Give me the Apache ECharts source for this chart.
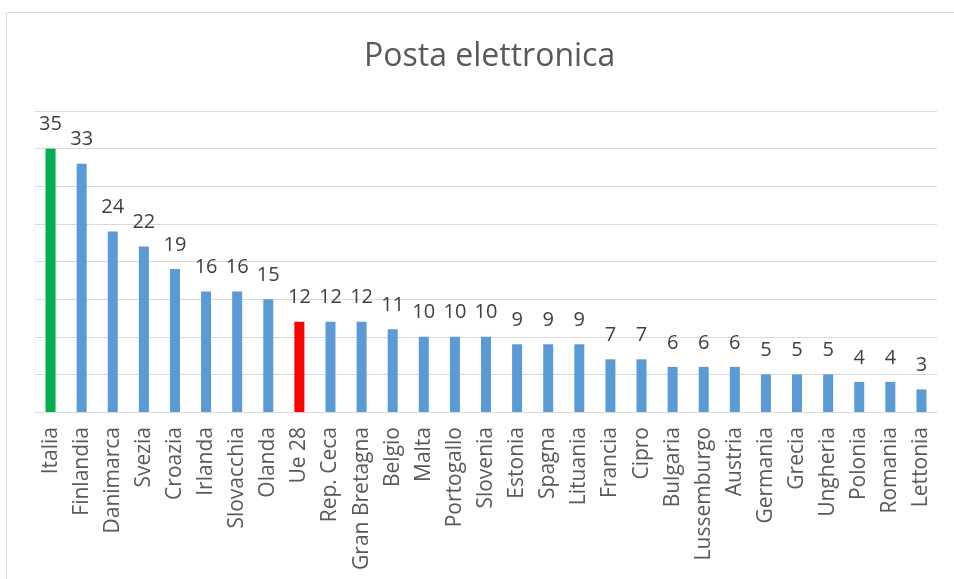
<!DOCTYPE html>
<html>
<head>
<meta charset="utf-8">
<script src="https://cdn.jsdelivr.net/npm/echarts@6/dist/echarts.min.js"></script>
<style>
  html, body { margin: 0; padding: 0; background: #fff; }
  #chart { width: 954px; height: 579px; }
</style>
</head>
<body>
<div id="chart"></div>
<script>
  // dati
  const paesi = ['Italia', 'Finlandia', 'Danimarca', 'Svezia', 'Croazia', 'Irlanda', 'Slovacchia', 'Olanda',
    'Ue 28', 'Rep. Ceca', 'Gran Bretagna', 'Belgio', 'Malta', 'Portogallo', 'Slovenia', 'Estonia', 'Spagna',
    'Lituania', 'Francia', 'Cipro', 'Bulgaria', 'Lussemburgo', 'Austria', 'Germania', 'Grecia', 'Ungheria',
    'Polonia', 'Romania', 'Lettonia']
  const valori = [35, 33, 24, 22, 19, 16, 16, 15, 12, 12, 12, 11, 10, 10, 10, 9, 9, 9, 7, 7, 6, 6, 6, 5, 5, 5, 4, 4, 3]

  const colori = { 'Italia': '#00b050', 'Ue 28': '#ff0000' }

  const chart = echarts.init(document.getElementById('chart'))
  chart.setOption({
    animation: false,
    textStyle: { fontFamily: 'Open Sans' },
    title: {
      text: 'Posta elettronica',
      left: 359,
      top: 36,
      textStyle: { fontSize: 32, fontWeight: 'normal', color: '#595959', fontFamily: 'Open Sans' }
    },
    graphic: [{
      type: 'rect',
      shape: { x: 6.5, y: 12.5, width: 1000, height: 1000 },
      style: { fill: 'none', stroke: '#d9d9d9', lineWidth: 1 },
      silent: true
    }],
    grid: { left: 35, right: 17, top: 111, bottom: 167 },
    xAxis: {
      type: 'category',
      data: paesi,
      axisTick: { show: false },
      axisLine: { lineStyle: { color: '#d9d9d9', width: 1 } },
      axisLabel: { rotate: 90, interval: 0, fontSize: 21, color: '#595959', margin: 15 }
    },
    yAxis: {
      type: 'value',
      min: 0,
      max: 40,
      interval: 5,
      axisLabel: { show: false },
      axisLine: { show: false },
      axisTick: { show: false },
      splitLine: { lineStyle: { color: '#d9d9d9', width: 1 } }
    },
    series: [{
      type: 'bar',
      barWidth: 10,
      data: valori.map((v, i) => ({
        value: v,
        itemStyle: { color: colori[paesi[i]] || '#5b9bd5' }
      })),
      label: { show: true, position: 'top', distance: 14, fontSize: 20, color: '#404040' }
    }]
  })
</script>
</body>
</html>
